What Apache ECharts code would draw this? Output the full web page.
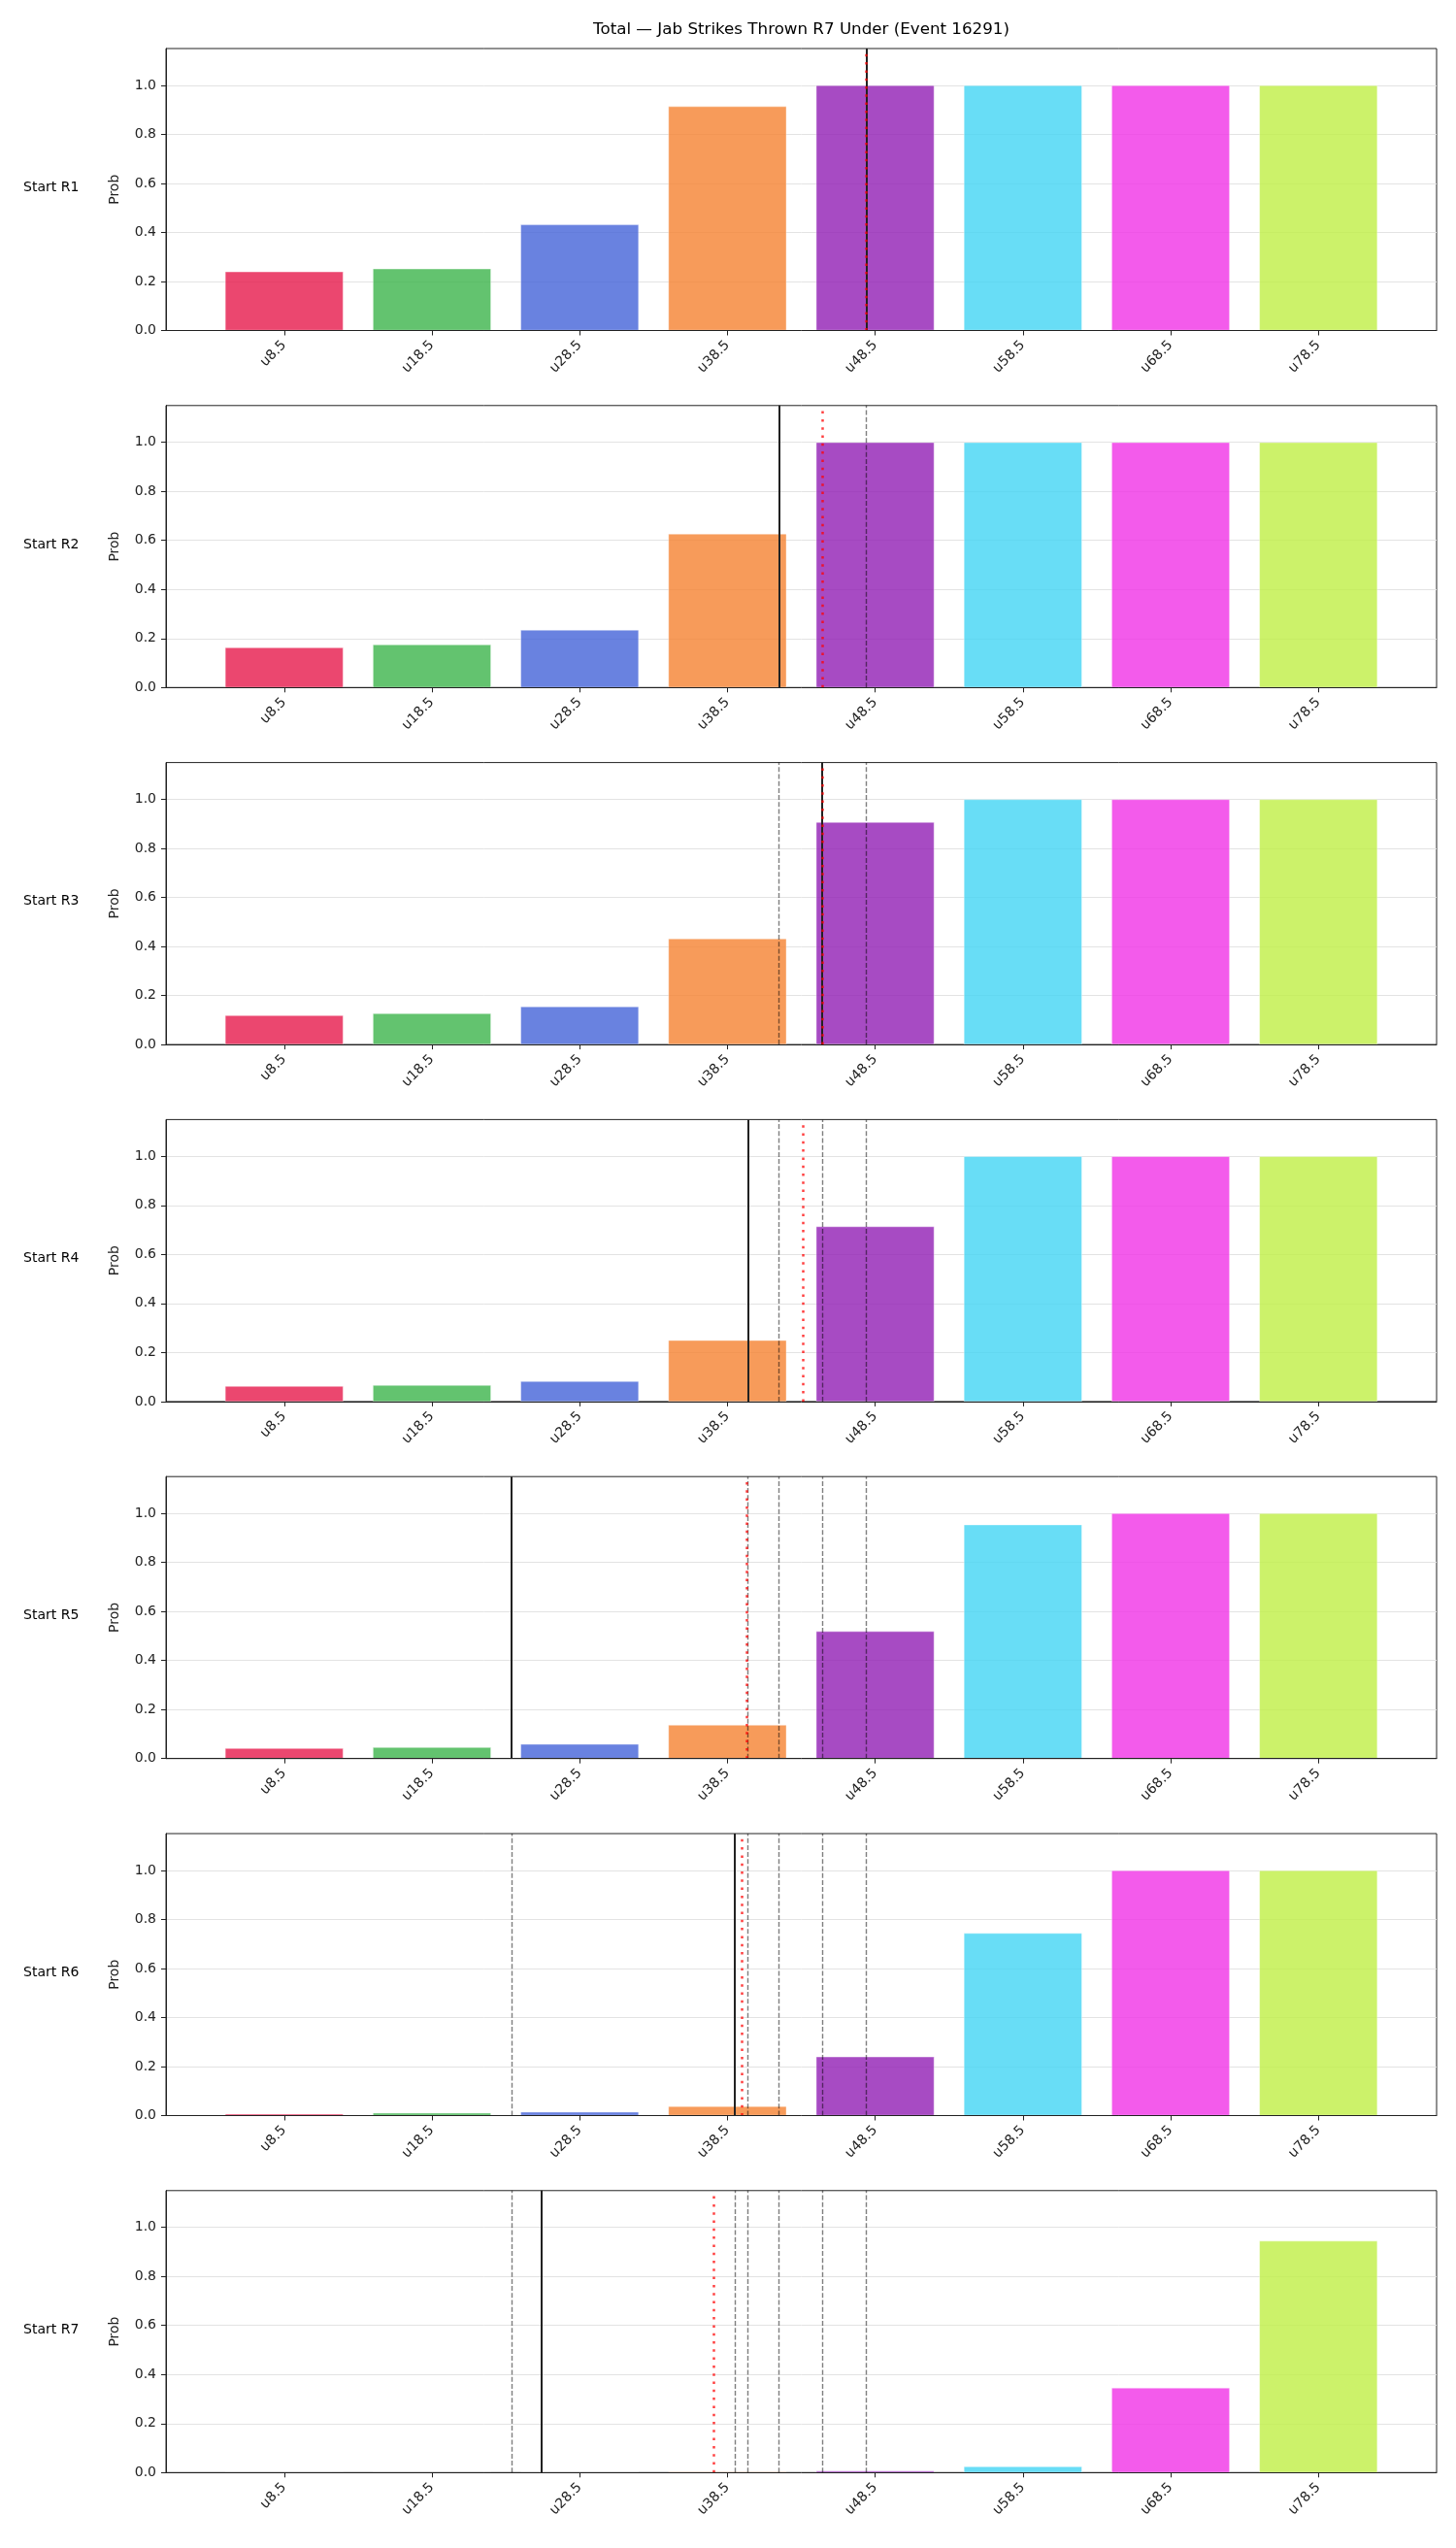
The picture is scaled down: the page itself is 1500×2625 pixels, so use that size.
<!DOCTYPE html>
<html><head><meta charset="utf-8">
<script src="https://cdn.jsdelivr.net/npm/echarts@6/dist/echarts.min.js"></script>
<style>html,body{margin:0;padding:0;background:#fff}#c{width:1500px;height:2625px}</style>
</head><body><div id="c"></div>
<script>
const chartTitle = 'Total — Jab Strikes Thrown R7 Under (Event 16291)';
const categories = ['u8.5','u18.5','u28.5','u38.5','u48.5','u58.5','u68.5','u78.5'];
const thresholds = [8.5,18.5,28.5,38.5,48.5,58.5,68.5,78.5];
const rowLabels = ['Start R1','Start R2','Start R3','Start R4','Start R5','Start R6','Start R7'];
const probR1 = [0.240,0.252,0.432,0.914,1.0,1.0,1.0,1.0];
const probR2 = [0.163,0.175,0.235,0.627,1.0,1.0,1.0,1.0];
const probR3 = [0.119,0.127,0.155,0.432,0.907,1.0,1.0,1.0];
const probR4 = [0.063,0.067,0.083,0.250,0.714,1.0,1.0,1.0];
const probR5 = [0.042,0.046,0.059,0.137,0.519,0.954,1.0,1.0];
const probR6 = [0.007,0.011,0.015,0.038,0.240,0.744,1.0,1.0];
const probR7 = [0.0,0.0,0.001,0.003,0.007,0.025,0.346,0.945];
const solidLines = [47.9,41.95,44.9,39.9,23.9,38.95,25.9];
const redLines = [47.9,44.9,44.9,43.65,39.75,39.55,37.6];
const yTicks = [0,0.2,0.4,0.6,0.8,1.0];
const barColors = ['#e6194b','#3cb44b','#4363d8','#f58231','#911eb4','#42d4f4','#f032e6','#bfef45'];

const probs = [probR1,probR2,probR3,probR4,probR5,probR6,probR7];
const FONT = 'DejaVu Sans';
const gLeft = 171, gWidth = 1309, gTop0 = 50, pitch = 367.8, gHeight = 290.5;
const xMin = -0.8, xMax = 7.8, yMax = 1.15;
const barW = 0.8 * gWidth / (xMax - xMin);
const toPos = v => (v - thresholds[0]) / (thresholds[1] - thresholds[0]);
const idx = categories.map((_, i) => i);

const grids = [], xAxes = [], yAxes = [], series = [], graphics = [];
probs.forEach((p, k) => {
  const top = gTop0 + pitch * k;
  grids.push({left: gLeft, top: top, width: gWidth, height: gHeight, show: true,
    borderColor: '#222', borderWidth: 1, backgroundColor: 'transparent', containLabel: false, outerBoundsMode: 'none'});
  xAxes.push({type: 'value', gridIndex: k, min: xMin, max: xMax, z: 5,
    axisLine: {show: true, onZero: false, lineStyle: {color: '#222', width: 1}},
    splitLine: {show: false},
    axisTick: {show: true, customValues: idx, length: 5, lineStyle: {color: '#222'}},
    axisLabel: {show: true, customValues: idx, rotate: 45, margin: 13, color: '#222',
      fontFamily: FONT, fontSize: 14, formatter: v => categories[Math.round(v)]}});
  yAxes.push({type: 'value', gridIndex: k, min: 0, max: yMax, interval: 0.2,
    name: 'Prob', nameLocation: 'middle', nameGap: 46, nameRotate: 90,
    nameTextStyle: {fontFamily: FONT, fontSize: 14, color: '#222'},
    axisLine: {show: true, onZero: false, lineStyle: {color: '#222', width: 1}},
    axisTick: {show: true, length: 5, lineStyle: {color: '#222'}, customValues: yTicks},
    axisLabel: {show: true, customValues: yTicks, margin: 10, color: '#222', fontFamily: FONT, fontSize: 14,
      formatter: v => v.toFixed(1)},
    splitLine: {show: true, lineStyle: {color: '#e3e3e3', width: 1}}});
  const marks = [];
  solidLines.slice(0, k).forEach(v => marks.push({xAxis: toPos(v),
    lineStyle: {color: 'rgba(0,0,0,0.5)', width: 1.4, type: [5, 2.2]}}));
  marks.push({xAxis: toPos(solidLines[k]), lineStyle: {color: '#222', width: 2, type: 'solid'}});
  marks.push({xAxis: toPos(redLines[k]), lineStyle: {color: 'rgba(255,0,0,0.75)', width: 2.5, type: [2.5, 5.8]}});
  series.push({type: 'bar', xAxisIndex: k, yAxisIndex: k, barWidth: barW, animation: false,
    data: p.map((v, i) => ({value: [i, v], itemStyle: {color: barColors[i], opacity: 0.8, borderColor: '#fff', borderWidth: 0.5}})),
    markLine: {silent: true, symbol: ['none', 'none'], label: {show: false}, animation: false, data: marks}});
  graphics.push({type: 'text', left: 24, top: top + gHeight / 2 - 9,
    style: {text: rowLabels[k], fontFamily: FONT, fontSize: 14, fill: '#000'}});
});
graphics.push({type: 'text', x: gLeft + gWidth / 2, y: 22,
  style: {text: chartTitle, fontFamily: FONT, fontSize: 16.7, fill: '#000', align: 'center', verticalAlign: 'top'}});

const chart = echarts.init(document.getElementById('c'), null, {renderer: 'canvas'});
chart.setOption({backgroundColor: '#fff', animation: false, textStyle: {fontFamily: FONT},
  grid: grids, xAxis: xAxes, yAxis: yAxes, series: series, graphic: graphics});
</script></body></html>
